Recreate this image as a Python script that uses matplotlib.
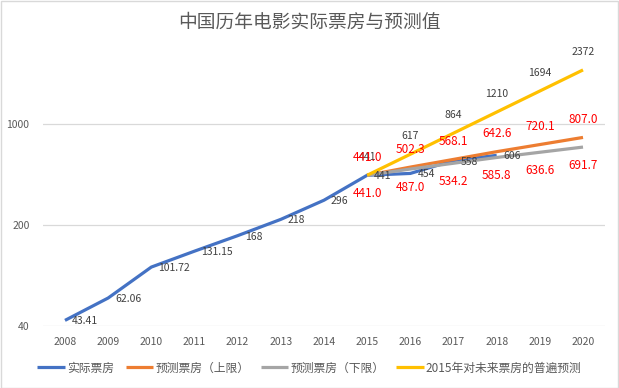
import matplotlib
matplotlib.use("Agg")
import matplotlib.pyplot as plt
import numpy as np
from matplotlib.ticker import FixedLocator, FixedFormatter, NullLocator

plt.rcParams['font.family'] = ['Noto Sans CJK SC', 'DejaVu Sans']

years = ['2008', '2009', '2010', '2011', '2012', '2013', '2014', '2015',
         '2016', '2017', '2018', '2019', '2020']
actual = [43.41, 62.06, 101.72, 131.15, 168, 218, 296, 441, 454, 558, 606]
actual_labels = ['43.41', '62.06', '101.72', '131.15', '168', '218', '296',
                 '441', '454', '558', '606']
upper = [441.0, 502.3, 568.1, 642.6, 720.1, 807.0]
lower = [441.0, 487.0, 534.2, 585.8, 636.6, 691.7]
common = [441, 617, 864, 1210, 1694, 2372]
forecast_start = 7  # index of 2015

title = '中国历年电影实际票房与预测值'
series_names = ['实际票房', '预测票房（上限）', '预测票房（下限）', '2015年对未来票房的普遍预测']
colors = ['#4472C4', '#ED7D31', '#A5A5A5', '#FFC000']
yticks = [40, 200, 1000]

W, H = 619, 388
fig = plt.figure(figsize=(W / 100, H / 100), dpi=100)
fig.patch.set_facecolor('white')
fig.add_artist(plt.Rectangle((0.5 / W, 0.5 / H), 1 - 1.5 / W, 1 - 1.5 / H,
                             transform=fig.transFigure, fill=False,
                             edgecolor='#D9D9D9', linewidth=1))

left_px, right_px = 43.4, 604.6
bot_px, top_px = 325.5, 35
ax = fig.add_axes([left_px / W, 1 - bot_px / H, (right_px - left_px) / W,
                   (bot_px - top_px) / H])
ax.set_yscale('log')
px_per5 = (325.5 - 124.0) / 2
ymax = 1000 * 5 ** ((124.0 - top_px) / px_per5)
ax.set_ylim(40, ymax)
ax.set_xlim(-0.5, len(years) - 0.5)

for s in ax.spines.values():
    s.set_visible(False)
ax.yaxis.set_major_locator(FixedLocator(yticks))
ax.yaxis.set_major_formatter(FixedFormatter([str(v) for v in yticks]))
ax.yaxis.set_minor_locator(NullLocator())
ax.set_xticks(range(len(years)))
ax.set_xticklabels(years)
ax.tick_params(axis='both', length=0, labelsize=7.5, colors='#595959')
ax.tick_params(axis='x', pad=8)
ax.tick_params(axis='y', pad=10)
for v in yticks:
    ax.axhline(v, color='#D9D9D9', linewidth=0.9, zorder=0)

x_act = np.arange(len(actual))
x_fc = np.arange(forecast_start, forecast_start + len(upper))

lw = 2.3
ax.plot(x_act, actual, color=colors[0], lw=lw, label=series_names[0], zorder=3,
        solid_capstyle='butt')
ax.plot(x_fc, upper, color=colors[1], lw=lw, label=series_names[1], zorder=4,
        solid_capstyle='butt')
ax.plot(x_fc, lower, color=colors[2], lw=lw, label=series_names[2], zorder=5,
        solid_capstyle='butt')
ax.plot(x_fc, common, color=colors[3], lw=lw, label=series_names[3], zorder=6,
        solid_capstyle='butt')

black = '#404040'
for x, v, t in zip(x_act, actual, actual_labels):
    ax.annotate(t, (x, v), xytext=(7, -1), textcoords='offset pixels',
                ha='left', va='center', fontsize=7.5, color=black, zorder=10)
for x, v in zip(x_fc, common):
    ax.annotate(str(v), (x, v), xytext=(0, 18), textcoords='offset pixels',
                ha='center', va='center', fontsize=7.5, color=black, zorder=10)
for x, v in zip(x_fc, upper):
    ax.annotate(f'{v:.1f}', (x, v), xytext=(0, 18), textcoords='offset pixels',
                ha='center', va='center', fontsize=8.5, color='#FF0000', zorder=10)
for x, v in zip(x_fc, lower):
    ax.annotate(f'{v:.1f}', (x, v), xytext=(0, -18), textcoords='offset pixels',
                ha='center', va='center', fontsize=8.5, color='#FF0000', zorder=10)

fig.text(0.5, 1 - 22 / H, title, ha='center', va='center', fontsize=13.5,
         color='#595959')

leg = fig.legend(loc='center', bbox_to_anchor=(0.5, 1 - 368 / H), ncol=4,
                 frameon=False, fontsize=8.5, handlelength=2.3,
                 handletextpad=0.2, columnspacing=1.0, labelcolor='#595959')

fig.savefig('out.png', dpi=100)
